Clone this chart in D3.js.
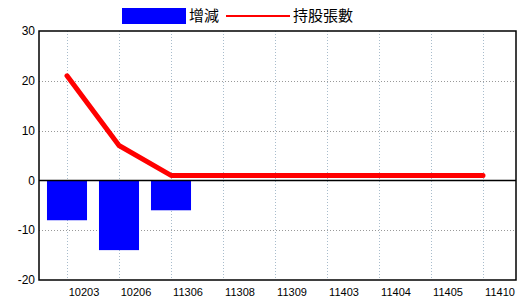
<!DOCTYPE html>
<html>
<head>
<meta charset="utf-8">
<script src="https://cdn.jsdelivr.net/npm/d3@7"></script>
<style>
  body { margin: 0; background: #fff; }
  text { font-family: "Liberation Sans", Arial, sans-serif; fill: #000; }
  .cjk { font-family: "Noto Sans CJK TC", "Noto Sans CJK SC", sans-serif; }
</style>
</head>
<body>
<svg class="chart" width="520" height="300"></svg>
<script>
const categories = ['10203', '10206', '11306', '11308', '11309', '11403', '11404', '11405', '11410']
const changeValues = [-8, -14, -6, null, null, null, null, null, null]
const holdingValues = [21, 7, 1, 1, 1, 1, 1, 1, 1]
const yTicks = [-20, -10, 0, 10, 20, 30]

const svg = d3.select('.chart')
const plotLeft = 39
const plotRight = 516
const plotTop = 31
const plotBottom = 280

const x = d3.scaleBand()
  .domain(categories)
  .range([41, 509])
  .paddingInner(0.23)
  .paddingOuter(0.115)

const y = d3.scaleLinear()
  .domain([-20, 30])
  .range([plotBottom, plotTop])

const cx = function (d) { return x(d) + x.bandwidth() / 2 }

// grid
svg.append('g')
  .selectAll('line')
  .data(categories)
  .enter()
  .append('line')
  .attr('x1', d => Math.round(cx(d)) + 0.5)
  .attr('x2', d => Math.round(cx(d)) + 0.5)
  .attr('y1', plotTop)
  .attr('y2', plotBottom)
  .attr('stroke', '#a8bccc')
  .attr('stroke-dasharray', '1,2')

svg.append('g')
  .selectAll('line')
  .data(yTicks.filter(d => d !== 0 && d !== -20 && d !== 30))
  .enter()
  .append('line')
  .attr('x1', plotLeft)
  .attr('x2', plotRight)
  .attr('y1', d => Math.round(y(d)) + 0.5)
  .attr('y2', d => Math.round(y(d)) + 0.5)
  .attr('stroke', '#999')
  .attr('stroke-dasharray', '1,2')

// bars
svg.append('g')
  .selectAll('rect')
  .data(categories.map((c, i) => ({ c: c, v: changeValues[i] })).filter(d => d.v !== null))
  .enter()
  .append('rect')
  .attr('x', d => x(d.c))
  .attr('width', x.bandwidth())
  .attr('y', d => y(Math.max(0, d.v)))
  .attr('height', d => Math.abs(y(d.v) - y(0)))
  .attr('fill', '#0000ff')

// zero line
svg.append('line')
  .attr('x1', plotLeft)
  .attr('x2', plotRight)
  .attr('y1', Math.round(y(0)) + 0.5)
  .attr('y2', Math.round(y(0)) + 0.5)
  .attr('stroke', '#000')
  .attr('stroke-width', 1.5)

// holdings line
const line = d3.line()
  .x((d, i) => cx(categories[i]))
  .y(d => y(d))

svg.append('path')
  .datum(holdingValues)
  .attr('d', line)
  .attr('fill', 'none')
  .attr('stroke', '#ff0000')
  .attr('stroke-width', 5)
  .attr('stroke-linejoin', 'round')
  .attr('stroke-linecap', 'round')

// frame
svg.append('rect')
  .attr('x', plotLeft)
  .attr('y', plotTop)
  .attr('width', plotRight - plotLeft)
  .attr('height', plotBottom - plotTop)
  .attr('fill', 'none')
  .attr('stroke', '#000')
  .attr('stroke-width', 1.5)

// y tick labels
svg.append('g')
  .selectAll('text')
  .data(yTicks)
  .enter()
  .append('text')
  .attr('x', 35)
  .attr('y', d => y(d))
  .attr('dy', '0.35em')
  .attr('text-anchor', 'end')
  .style('font-size', '12px')
  .text(d => d)

// x tick labels
svg.append('g')
  .selectAll('text')
  .data(categories)
  .enter()
  .append('text')
  .attr('x', d => cx(d) + 17)
  .attr('y', 292)
  .attr('dy', '0.35em')
  .attr('text-anchor', 'middle')
  .style('font-size', '11px')
  .text(d => d)

// legend
const legend = svg.append('g')
legend.append('rect')
  .attr('x', 122)
  .attr('y', 8)
  .attr('width', 64)
  .attr('height', 16)
  .attr('fill', '#0000ff')
legend.append('text')
  .attr('class', 'cjk')
  .attr('x', 189)
  .attr('y', 16)
  .attr('dy', '0.35em')
  .style('font-size', '15px')
  .text('增減')
legend.append('line')
  .attr('x1', 226)
  .attr('x2', 290)
  .attr('y1', 16)
  .attr('y2', 16)
  .attr('stroke', '#ff0000')
  .attr('stroke-width', 2)
legend.append('text')
  .attr('class', 'cjk')
  .attr('x', 293)
  .attr('y', 16)
  .attr('dy', '0.35em')
  .style('font-size', '15px')
  .text('持股張數')
</script>
</body>
</html>
